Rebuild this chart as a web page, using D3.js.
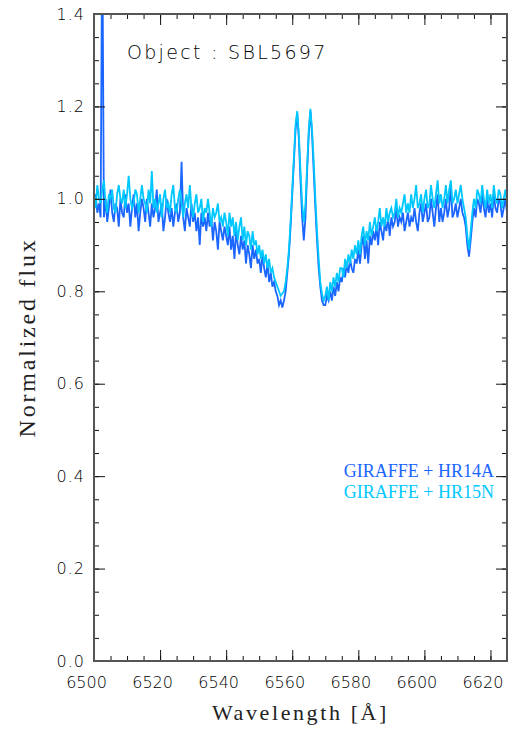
<!DOCTYPE html>
<html>
<head>
<meta charset="utf-8">
<script src="https://cdn.jsdelivr.net/npm/d3@7"></script>
<style>
  body { margin: 0; background: #fff; }
</style>
</head>
<body>
<div id="chart"></div>
<script>
// wavelength grid (Angstrom), shared by both spectra
const wavelength = [
	6500, 6500.5, 6501, 6501.5, 6502, 6502.5, 6503, 6503.5, 6504, 6504.5,
	6505, 6505.5, 6506, 6506.5, 6507, 6507.5, 6508, 6508.5, 6509, 6509.5,
	6510, 6510.5, 6511, 6511.5, 6512, 6512.5, 6513, 6513.5, 6514, 6514.5,
	6515, 6515.5, 6516, 6516.5, 6517, 6517.5, 6518, 6518.5, 6519, 6519.5,
	6520, 6520.5, 6521, 6521.5, 6522, 6522.5, 6523, 6523.5, 6524, 6524.5,
	6525, 6525.5, 6526, 6526.5, 6527, 6527.5, 6528, 6528.5, 6529, 6529.5,
	6530, 6530.5, 6531, 6531.5, 6532, 6532.5, 6533, 6533.5, 6534, 6534.5,
	6535, 6535.5, 6536, 6536.5, 6537, 6537.5, 6538, 6538.5, 6539, 6539.5,
	6540, 6540.5, 6541, 6541.5, 6542, 6542.5, 6543, 6543.5, 6544, 6544.5,
	6545, 6545.5, 6546, 6546.5, 6547, 6547.5, 6548, 6548.5, 6549, 6549.5,
	6550, 6550.5, 6551, 6551.5, 6552, 6552.5, 6553, 6553.5, 6554, 6554.5,
	6555, 6555.5, 6556, 6556.5, 6557, 6557.5, 6558, 6558.5, 6559, 6559.5,
	6560, 6560.5, 6561, 6561.5, 6562, 6562.5, 6563, 6563.5, 6564, 6564.5,
	6565, 6565.5, 6566, 6566.5, 6567, 6567.5, 6568, 6568.5, 6569, 6569.5,
	6570, 6570.5, 6571, 6571.5, 6572, 6572.5, 6573, 6573.5, 6574, 6574.5,
	6575, 6575.5, 6576, 6576.5, 6577, 6577.5, 6578, 6578.5, 6579, 6579.5,
	6580, 6580.5, 6581, 6581.5, 6582, 6582.5, 6583, 6583.5, 6584, 6584.5,
	6585, 6585.5, 6586, 6586.5, 6587, 6587.5, 6588, 6588.5, 6589, 6589.5,
	6590, 6590.5, 6591, 6591.5, 6592, 6592.5, 6593, 6593.5, 6594, 6594.5,
	6595, 6595.5, 6596, 6596.5, 6597, 6597.5, 6598, 6598.5, 6599, 6599.5,
	6600, 6600.5, 6601, 6601.5, 6602, 6602.5, 6603, 6603.5, 6604, 6604.5,
	6605, 6605.5, 6606, 6606.5, 6607, 6607.5, 6608, 6608.5, 6609, 6609.5,
	6610, 6610.5, 6611, 6611.5, 6612, 6612.5, 6613, 6613.5, 6614, 6614.5,
	6615, 6615.5, 6616, 6616.5, 6617, 6617.5, 6618, 6618.5, 6619, 6619.5,
	6620, 6620.5, 6621, 6621.5, 6622, 6622.5, 6623, 6623.5, 6624, 6624.5,
	6625
];

// GIRAFFE + HR14A (blue)
const fluxHR14A = [
	0.98, 1.01, 0.97, 0.99, 0.96, 1.60, 0.96, 1.00, 0.95, 0.98,
	1.02, 0.97, 0.95, 0.99, 0.98, 0.94, 1.00, 0.97, 0.96, 1.01,
	0.97, 0.99, 0.94, 0.98, 1.01, 0.96, 0.99, 0.93, 0.97, 1.00,
	0.98, 0.95, 1.00, 0.97, 0.94, 0.99, 0.96, 0.98, 1.02, 0.95,
	0.97, 0.99, 0.93, 0.96, 1.00, 0.97, 0.95, 0.98, 0.94, 0.97,
	0.99, 0.95, 0.97, 1.08, 0.96, 0.93, 0.98, 0.96, 0.94, 0.99,
	0.95, 0.97, 0.93, 0.96, 0.90, 0.97, 0.94, 0.96, 0.93, 0.97,
	0.94, 0.96, 0.91, 0.95, 0.93, 0.89, 0.95, 0.93, 0.91, 0.94,
	0.92, 0.90, 0.94, 0.89, 0.92, 0.87, 0.93, 0.90, 0.88, 0.92,
	0.89, 0.91, 0.86, 0.90, 0.88, 0.85, 0.90, 0.87, 0.89, 0.86,
	0.87, 0.84, 0.88, 0.85, 0.83, 0.86, 0.82, 0.84, 0.81, 0.82,
	0.80, 0.79, 0.77, 0.78, 0.765, 0.78, 0.80, 0.84, 0.88, 0.94,
	1.01, 1.08, 1.15, 1.185, 1.13, 1.04, 0.96, 0.91, 0.96, 1.06,
	1.14, 1.19, 1.14, 1.06, 0.98, 0.91, 0.85, 0.81, 0.78, 0.77,
	0.77, 0.79, 0.78, 0.80, 0.78, 0.81, 0.79, 0.82, 0.80, 0.83,
	0.82, 0.85, 0.83, 0.86, 0.84, 0.87, 0.85, 0.84, 0.87, 0.86,
	0.89, 0.86, 0.90, 0.92, 0.87, 0.91, 0.86, 0.92, 0.90, 0.93,
	0.91, 0.94, 0.90, 0.95, 0.93, 0.91, 0.95, 0.93, 0.96, 0.92,
	0.96, 0.94, 0.95, 0.98, 0.94, 0.96, 0.95, 0.97, 0.93, 0.95,
	0.97, 0.94, 0.96, 0.95, 0.98, 0.95, 0.93, 0.97, 0.99, 0.95,
	0.97, 0.99, 0.95, 0.96, 1.00, 0.97, 0.94, 0.98, 1.01, 0.95,
	0.98, 0.95, 0.97, 1.00, 0.96, 0.98, 1.03, 0.96, 0.97, 0.99,
	0.96, 0.98, 1.00, 0.97, 0.96, 0.94, 0.90, 0.875, 0.91, 0.95,
	0.98, 0.96, 1.00, 0.99, 0.97, 1.01, 0.98, 0.96, 1.00, 0.97,
	0.99, 0.96, 1.01, 0.98, 0.97, 1.00, 0.99, 0.96, 0.98, 1.00,
	0.97
];

// GIRAFFE + HR15N (cyan)
const fluxHR15N = [
	1.01, 0.98, 1.03, 1.00, 0.99, 1.02, 1.04, 0.99, 0.97, 1.01,
	1.00, 1.02, 0.98, 0.97, 1.01, 1.03, 1.00, 0.99, 1.02, 0.98,
	1.01, 1.05, 1.00, 0.98, 0.99, 1.02, 1.01, 0.97, 1.00, 1.03,
	1.00, 0.99, 0.97, 1.02, 0.99, 1.06, 0.98, 1.00, 0.97, 0.99,
	1.01, 0.96, 1.00, 1.02, 0.98, 0.99, 0.97, 1.01, 1.03, 0.98,
	0.97, 1.00, 1.02, 0.99, 0.96, 0.99, 1.01, 0.98, 1.03, 0.98,
	0.96, 0.99, 1.01, 0.97, 0.98, 1.00, 0.95, 0.98, 0.97, 1.00,
	0.97, 0.94, 0.98, 0.96, 0.97, 0.99, 0.95, 0.96, 0.94, 0.97,
	0.95, 0.92, 0.97, 0.94, 0.96, 0.92, 0.95, 0.91, 0.94, 0.96,
	0.91, 0.94, 0.90, 0.93, 0.92, 0.89, 0.93, 0.90, 0.91, 0.88,
	0.90, 0.87, 0.89, 0.86, 0.88, 0.85, 0.87, 0.84, 0.85, 0.83,
	0.82, 0.81, 0.80, 0.79, 0.795, 0.80, 0.82, 0.85, 0.89, 0.95,
	1.02, 1.09, 1.16, 1.19, 1.14, 1.06, 0.99, 0.95, 0.99, 1.07,
	1.15, 1.195, 1.15, 1.08, 1.00, 0.93, 0.87, 0.82, 0.795, 0.78,
	0.79, 0.81, 0.78, 0.82, 0.80, 0.83, 0.81, 0.84, 0.82, 0.85,
	0.85, 0.83, 0.87, 0.85, 0.88, 0.86, 0.89, 0.87, 0.90, 0.88,
	0.91, 0.88, 0.92, 0.94, 0.90, 0.93, 0.91, 0.95, 0.92, 0.94,
	0.96, 0.93, 0.95, 0.98, 0.94, 0.96, 0.94, 0.98, 0.95, 0.97,
	0.98, 0.96, 0.97, 1.00, 0.96, 0.98, 0.97, 0.99, 1.01, 0.97,
	0.99, 0.97, 1.01, 0.98, 1.00, 1.03, 0.98, 0.99, 1.01, 0.97,
	1.00, 1.02, 0.98, 0.99, 1.03, 1.00, 0.98, 1.01, 1.04, 0.99,
	1.01, 0.98, 1.00, 1.03, 0.99, 1.02, 1.04, 0.99, 1.00, 1.02,
	0.99, 1.01, 1.03, 1.00, 0.98, 0.96, 0.92, 0.89, 0.93, 0.97,
	1.00, 0.98, 1.02, 1.01, 0.99, 1.03, 1.00, 0.98, 1.02, 0.99,
	1.01, 0.98, 1.03, 1.00, 0.99, 1.02, 1.01, 0.98, 1.00, 1.02,
	0.99
];

const xTicks = [6500, 6520, 6540, 6560, 6580, 6600, 6620];
const yTicks = [0.0, 0.2, 0.4, 0.6, 0.8, 1.0, 1.2, 1.4];
const seriesNames = ["GIRAFFE + HR14A", "GIRAFFE + HR15N"];
const seriesColors = ["#1a66ff", "#00c8ff"];

const w = 521;
const h = 731;
const margin = { top: 14, bottom: 70, left: 94, right: 14 };

const svg = d3.select("#chart")
	.append("svg")
	.attr("width", w)
	.attr("height", h)
	.attr("viewBox", [0, 0, w, h]);

const x = d3.scaleLinear()
	.domain([6500, 6625])
	.range([margin.left, w - margin.right]);

const y = d3.scaleLinear()
	.domain([0, 1.4])
	.range([h - margin.bottom, margin.top]);

svg.append("clipPath")
	.attr("id", "plot-clip")
	.append("rect")
	.attr("x", margin.left)
	.attr("y", margin.top)
	.attr("width", w - margin.left - margin.right)
	.attr("height", h - margin.top - margin.bottom);

// spectra
const line = d3.line()
	.x((d) => x(d[0]))
	.y((d) => y(d[1]));

const series = [
	wavelength.map((l, i) => [l, fluxHR14A[i]]),
	wavelength.map((l, i) => [l, fluxHR15N[i]])
];

svg.append("g")
	.attr("clip-path", "url(#plot-clip)")
	.selectAll("path")
	.data(series)
	.join("path")
		.attr("d", line)
		.attr("fill", "none")
		.attr("stroke", (d, i) => seriesColors[i])
		.attr("stroke-width", 1.8);

//axes

const minorX = d3.range(6500, 6626, 5);
const minorY = d3.range(0, 1.41, 0.05);

function tidy(g) {
	g.select(".domain").remove();
	g.selectAll("line").attr("stroke", "#111");
}

function xAxis(g) {
	g.attr("transform", `translate(0, ${y(0)})`)
	.call(d3.axisBottom(x).tickValues(xTicks).tickFormat(d3.format("d"))
		.tickSizeInner(-11).tickSizeOuter(0).tickPadding(16))
	.call(tidy)
	.attr("font-family", "DejaVu Sans")
	.attr("font-weight", 200)
	.attr("font-size", "16px")
	.call((g) => g.selectAll("text").attr("fill", "#000").attr("dx", -8));
}

function yAxis(g) {
	g.attr("transform", `translate(${margin.left}, 0)`)
	.call(d3.axisLeft(y).tickValues(yTicks).tickFormat(d3.format(".1f"))
		.tickSizeInner(-11).tickSizeOuter(0).tickPadding(9))
	.call(tidy)
	.attr("font-family", "DejaVu Sans")
	.attr("font-weight", 200)
	.attr("font-size", "16px")
	.call((g) => g.selectAll("text").attr("fill", "#000").attr("letter-spacing", 1));
}

function plainAxis(axis, size, tr) {
	return (g) => g.attr("transform", tr)
		.call(axis.tickFormat("").tickSizeInner(size).tickSizeOuter(0))
		.call(tidy);
}

svg.append("g").call(xAxis);
svg.append("g").call(yAxis);
svg.append("g").call(plainAxis(d3.axisBottom(x).tickValues(minorX), -5, `translate(0, ${y(0)})`));
svg.append("g").call(plainAxis(d3.axisTop(x).tickValues(xTicks), -11, `translate(0, ${y(1.4)})`));
svg.append("g").call(plainAxis(d3.axisTop(x).tickValues(minorX), -5, `translate(0, ${y(1.4)})`));
svg.append("g").call(plainAxis(d3.axisLeft(y).tickValues(minorY), -5, `translate(${margin.left}, 0)`));
svg.append("g").call(plainAxis(d3.axisRight(y).tickValues(yTicks), -11, `translate(${w - margin.right}, 0)`));
svg.append("g").call(plainAxis(d3.axisRight(y).tickValues(minorY), -5, `translate(${w - margin.right}, 0)`));

// frame
svg.append("rect")
	.attr("x", margin.left)
	.attr("y", margin.top)
	.attr("width", w - margin.left - margin.right)
	.attr("height", h - margin.top - margin.bottom)
	.attr("fill", "none")
	.attr("stroke", "#555")
	.attr("stroke-width", 2);

// titles
svg.append("text")
	.attr("x", (margin.left + w - margin.right) / 2)
	.attr("y", 720)
	.attr("text-anchor", "middle")
	.attr("font-family", "Liberation Serif")
	.attr("font-size", "22px")
	.attr("letter-spacing", 2.6)
	.attr("fill", "#222")
	.text("Wavelength [Å]");

svg.append("text")
	.attr("transform", `translate(35, ${(margin.top + h - margin.bottom) / 2}) rotate(-90)`)
	.attr("text-anchor", "middle")
	.attr("font-family", "Liberation Serif")
	.attr("font-size", "24px")
	.attr("letter-spacing", 2.8)
	.attr("fill", "#222")
	.text("Normalized flux");

svg.append("text")
	.attr("x", 127)
	.attr("y", 59)
	.attr("font-family", "DejaVu Sans")
	.attr("font-weight", 200)
	.attr("font-size", "19px")
	.attr("letter-spacing", 2.3)
	.attr("fill", "#000")
	.text("Object : SBL5697");

// legend
svg.append("g")
	.selectAll("text")
	.data(seriesNames)
	.join("text")
		.attr("x", 494)
		.attr("y", (d, i) => 477 + i * 21)
		.attr("text-anchor", "end")
		.attr("font-family", "Liberation Serif")
		.attr("font-size", "18px")
		.attr("fill", (d, i) => seriesColors[i])
		.text((d) => d);
</script>
</body>
</html>
